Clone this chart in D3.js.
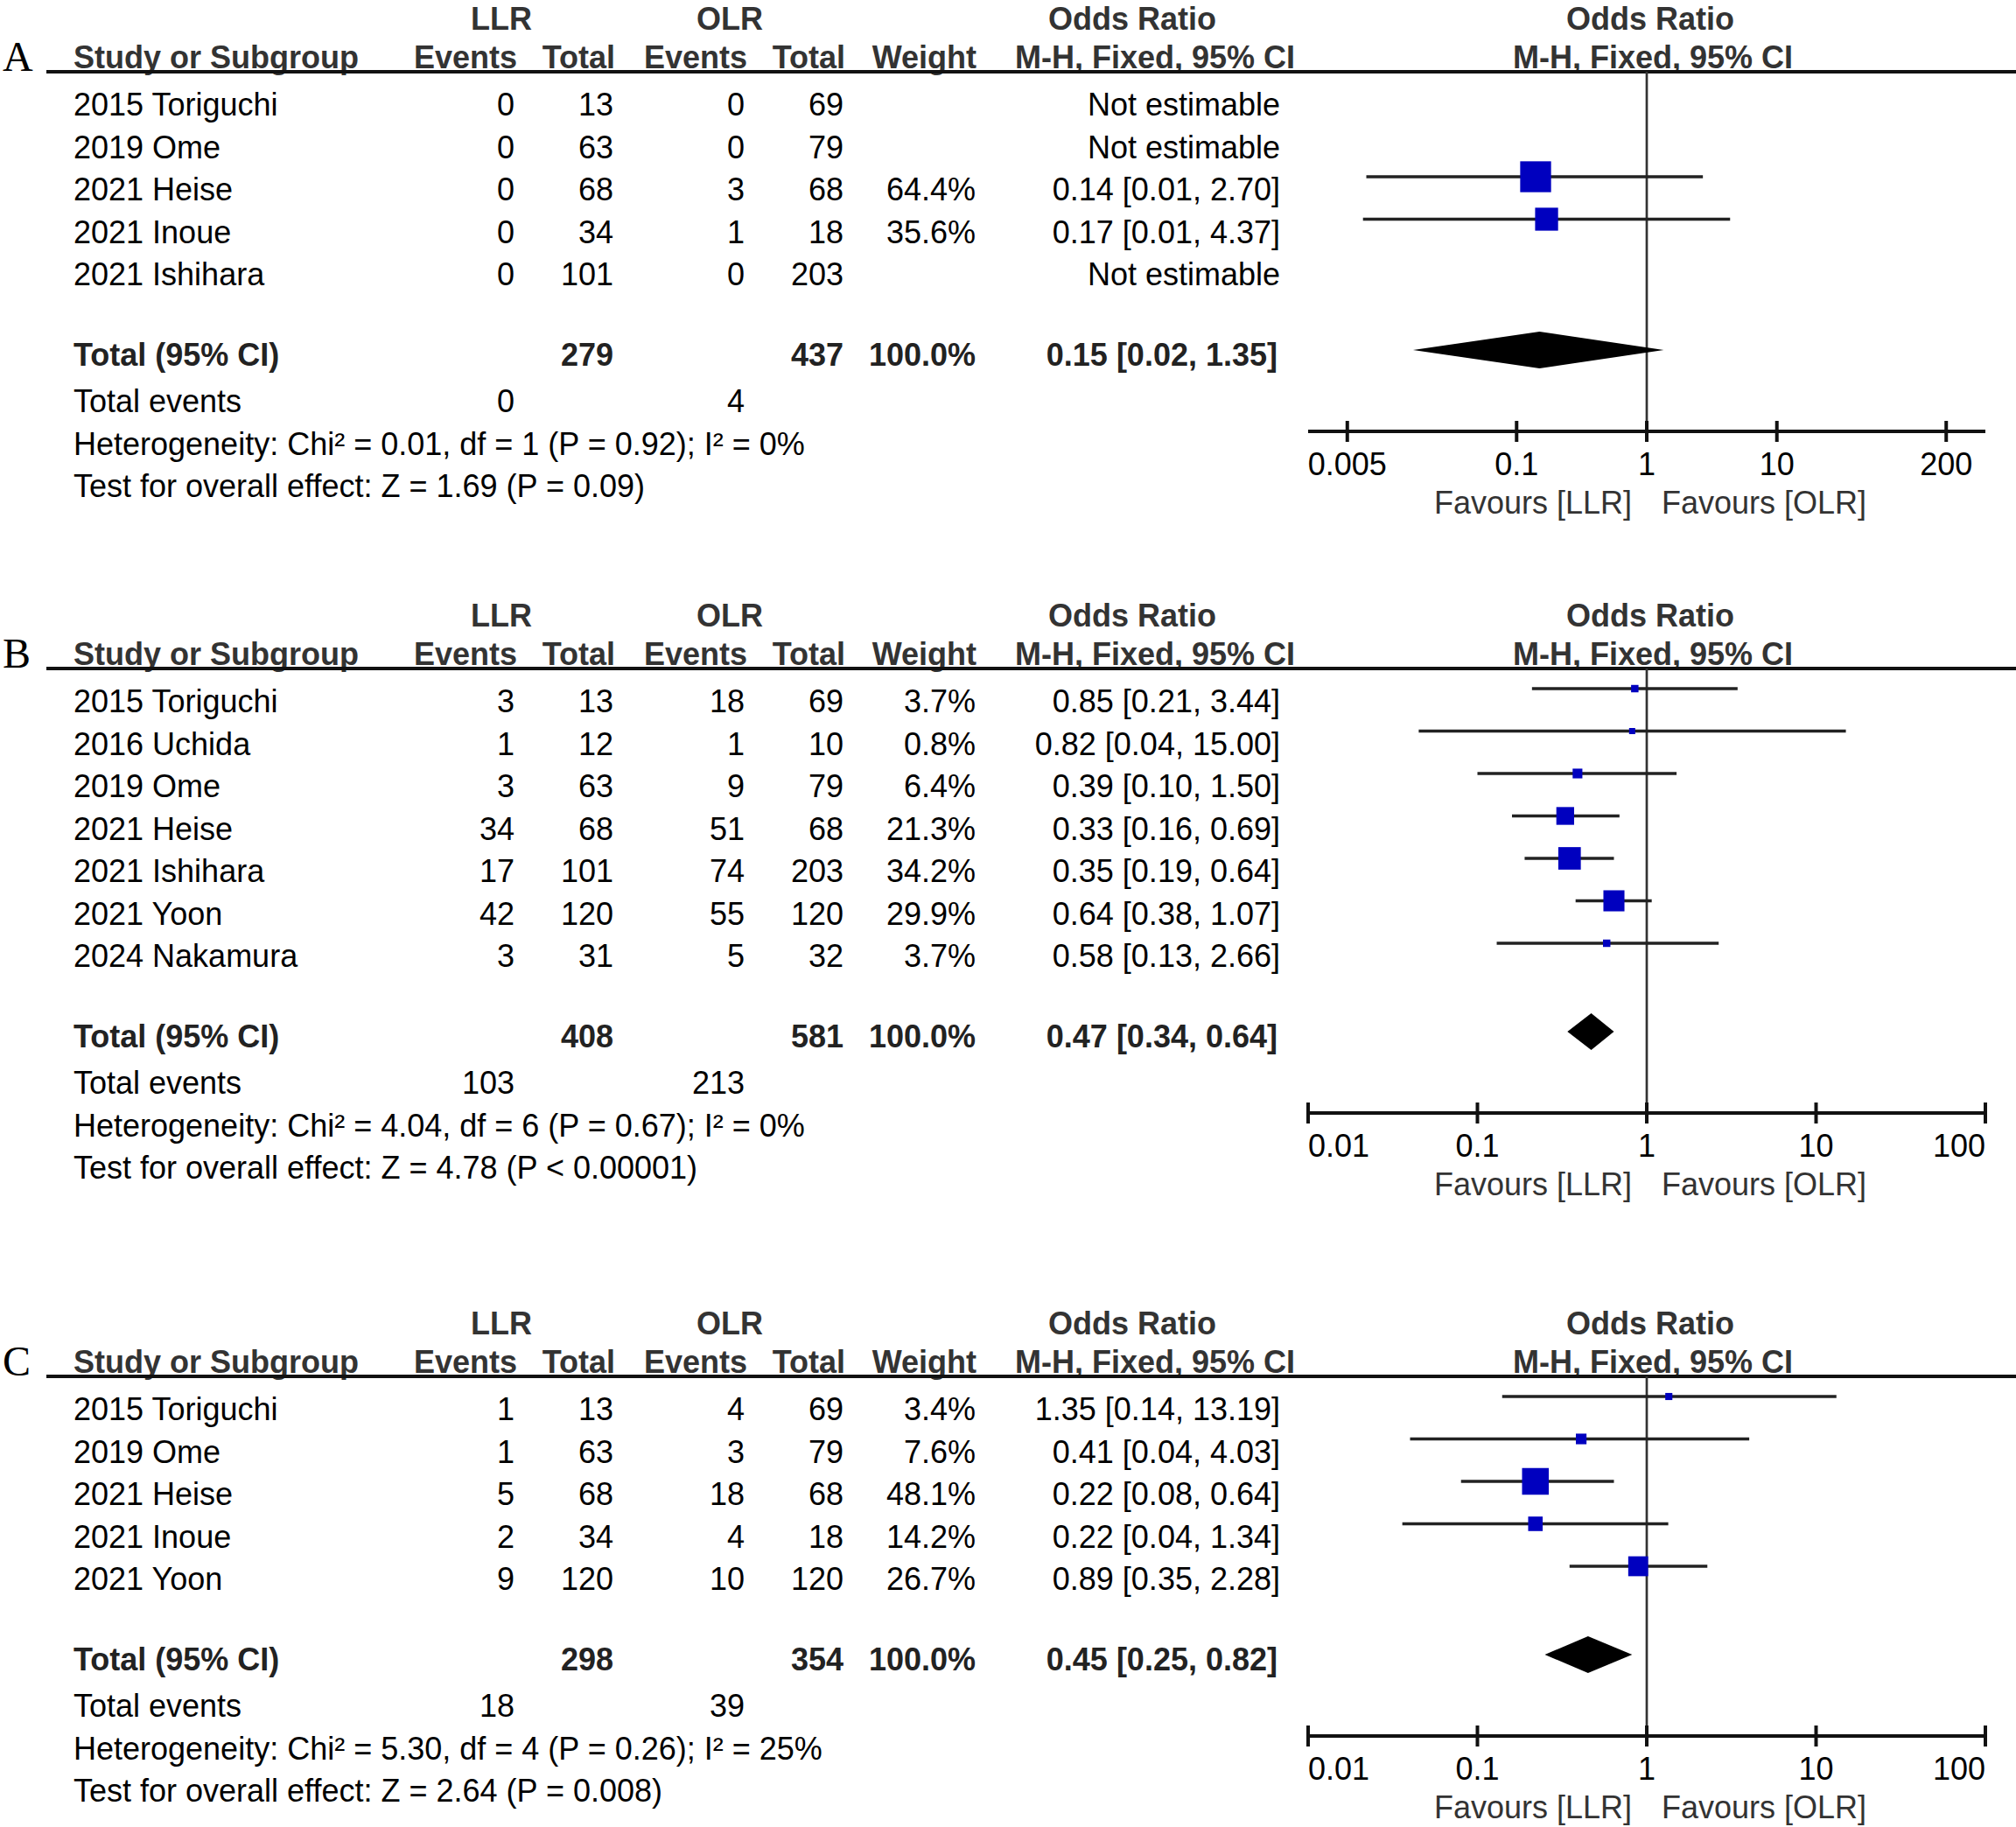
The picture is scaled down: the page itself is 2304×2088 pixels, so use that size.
<!DOCTYPE html>
<html>
<head>
<meta charset="utf-8">
<script src="https://cdn.jsdelivr.net/npm/d3@7"></script>
<style>
  html, body { margin: 0; padding: 0; background: #fff; }
  svg { display: block; }
</style>
</head>
<body>
<div id="chart"></div>
<script>
// ---- panel A ----
const aStudies = ["2015 Toriguchi", "2019 Ome", "2021 Heise", "2021 Inoue", "2021 Ishihara"];
const aLlrEvents = [0, 0, 0, 0, 0];
const aLlrTotal = [13, 63, 68, 34, 101];
const aOlrEvents = [0, 0, 3, 1, 0];
const aOlrTotal = [69, 79, 68, 18, 203];
const aWeight = [null, null, 64.4, 35.6, null];
const aOR = [null, null, 0.14, 0.17, null];
const aLow = [null, null, 0.007, 0.0066, null];
const aHigh = [null, null, 2.70, 4.37, null];
const aCiText = ["Not estimable", "Not estimable", "0.14 [0.01, 2.70]", "0.17 [0.01, 4.37]", "Not estimable"];
const aTotals = ["279", "437", "100.0%", "0.15 [0.02, 1.35]"];
const aPooled = [0.016, 0.15, 1.35];
const aEventTotals = ["0", "4"];
const aHet = "Heterogeneity: Chi² = 0.01, df = 1 (P = 0.92); I² = 0%";
const aTest = "Test for overall effect: Z = 1.69 (P = 0.09)";
const aTicks = [0.005, 0.1, 1, 10, 200];
const aDomain = [0.0025, 400];

// ---- panel B ----
const bStudies = ["2015 Toriguchi", "2016 Uchida", "2019 Ome", "2021 Heise", "2021 Ishihara", "2021 Yoon", "2024 Nakamura"];
const bLlrEvents = [3, 1, 3, 34, 17, 42, 3];
const bLlrTotal = [13, 12, 63, 68, 101, 120, 31];
const bOlrEvents = [18, 1, 9, 51, 74, 55, 5];
const bOlrTotal = [69, 10, 79, 68, 203, 120, 32];
const bWeight = [3.7, 0.8, 6.4, 21.3, 34.2, 29.9, 3.7];
const bOR = [0.85, 0.82, 0.39, 0.33, 0.35, 0.64, 0.58];
const bLow = [0.21, 0.045, 0.10, 0.16, 0.19, 0.38, 0.13];
const bHigh = [3.44, 15.00, 1.50, 0.69, 0.64, 1.07, 2.66];
const bCiText = ["0.85 [0.21, 3.44]", "0.82 [0.04, 15.00]", "0.39 [0.10, 1.50]", "0.33 [0.16, 0.69]",
                 "0.35 [0.19, 0.64]", "0.64 [0.38, 1.07]", "0.58 [0.13, 2.66]"];
const bTotals = ["408", "581", "100.0%", "0.47 [0.34, 0.64]"];
const bPooled = [0.34, 0.47, 0.64];
const bEventTotals = ["103", "213"];
const bHet = "Heterogeneity: Chi² = 4.04, df = 6 (P = 0.67); I² = 0%";
const bTest = "Test for overall effect: Z = 4.78 (P < 0.00001)";
const bTicks = [0.01, 0.1, 1, 10, 100];
const bDomain = [0.01, 100];

// ---- panel C ----
const cStudies = ["2015 Toriguchi", "2019 Ome", "2021 Heise", "2021 Inoue", "2021 Yoon"];
const cLlrEvents = [1, 1, 5, 2, 9];
const cLlrTotal = [13, 63, 68, 34, 120];
const cOlrEvents = [4, 3, 18, 4, 10];
const cOlrTotal = [69, 79, 68, 18, 120];
const cWeight = [3.4, 7.6, 48.1, 14.2, 26.7];
const cOR = [1.35, 0.41, 0.22, 0.22, 0.89];
const cLow = [0.14, 0.04, 0.08, 0.036, 0.35];
const cHigh = [13.19, 4.03, 0.64, 1.34, 2.28];
const cCiText = ["1.35 [0.14, 13.19]", "0.41 [0.04, 4.03]", "0.22 [0.08, 0.64]", "0.22 [0.04, 1.34]", "0.89 [0.35, 2.28]"];
const cTotals = ["298", "354", "100.0%", "0.45 [0.25, 0.82]"];
const cPooled = [0.25, 0.45, 0.82];
const cEventTotals = ["18", "39"];
const cHet = "Heterogeneity: Chi² = 5.30, df = 4 (P = 0.26); I² = 25%";
const cTest = "Test for overall effect: Z = 2.64 (P = 0.008)";
const cTicks = [0.01, 0.1, 1, 10, 100];
const cDomain = [0.01, 100];

const W = 2304, H = 2088;
const svg = d3.select("#chart").append("svg")
    .attr("width", W).attr("height", H)
    .style("font-family", "'Liberation Sans', Arial, sans-serif");

const rowH = 48.5;
const col = { study: 84, e1: 588, t1: 701, e2: 851, t2: 964, weight: 1115, ci: 1463 };
const boxSize = d3.scaleSqrt().domain([0, 100]).range([0, 44]);

function txt(g, x, y, s, anchor, opts) {
    opts = opts || {};
    let t = g.append("text")
        .attr("x", x).attr("y", y)
        .attr("text-anchor", anchor || "start")
        .attr("font-size", opts.size || 36)
        .attr("fill", opts.fill || "#000")
        .text(s);
    if (opts.bold) t.attr("font-weight", "bold");
    return t;
}
function bold(g, x, y, s, anchor) {
    return txt(g, x, y, s, anchor, { bold: true, size: 36, fill: "#333" });
}

function drawPanel(p) {
    const g = svg.append("g");
    const lineY = p.lineY;
    const n = p.studies.length;

    // panel letter
    g.append("text").attr("x", 3).attr("y", lineY - 1)
        .attr("font-family", "'Liberation Serif', 'Times New Roman', serif")
        .attr("font-size", 48).attr("fill", "#000").text(p.letter);

    // headers
    const h1 = lineY - 48, h2 = lineY - 4;
    bold(g, 573, h1, "LLR", "middle");
    bold(g, 834, h1, "OLR", "middle");
    bold(g, 1294, h1, "Odds Ratio", "middle");
    bold(g, 1886, h1, "Odds Ratio", "middle");
    bold(g, col.study, h2, "Study or Subgroup", "start");
    bold(g, 591, h2, "Events", "end");
    bold(g, 703, h2, "Total", "end");
    bold(g, 854, h2, "Events", "end");
    bold(g, 966, h2, "Total", "end");
    bold(g, 1116, h2, "Weight", "end");
    bold(g, 1480, h2, "M-H, Fixed, 95% CI", "end");
    bold(g, 1889, h2, "M-H, Fixed, 95% CI", "middle");

    g.append("line").attr("x1", 53).attr("x2", W).attr("y1", lineY).attr("y2", lineY)
        .attr("stroke", "#111").attr("stroke-width", 4);

    // x scale of the forest plot
    const x = d3.scaleLog().domain(p.domain).range([1495, 2269]);

    const rowBase = i => lineY + 50 + i * rowH;
    const rowMark = i => lineY + 23 + i * rowH;

    p.studies.forEach((s, i) => {
        const y = rowBase(i);
        txt(g, col.study, y, s);
        txt(g, col.e1, y, p.llrE[i], "end");
        txt(g, col.t1, y, p.llrT[i], "end");
        txt(g, col.e2, y, p.olrE[i], "end");
        txt(g, col.t2, y, p.olrT[i], "end");
        if (p.weight[i] != null) txt(g, col.weight, y, p.weight[i].toFixed(1) + "%", "end");
        txt(g, col.ci, y, p.ciText[i], "end");
    });

    const totalBase = rowBase(n - 1) + 92;
    const totalCenter = totalBase - 13;
    bold(g, col.study, totalBase, "Total (95% CI)", "start").attr("fill", "#222");
    bold(g, col.t1, totalBase, p.totals[0], "end").attr("fill", "#222");
    bold(g, col.t2, totalBase, p.totals[1], "end").attr("fill", "#222");
    bold(g, col.weight, totalBase, p.totals[2], "end").attr("fill", "#222");
    bold(g, col.ci - 3, totalBase, p.totals[3], "end").attr("fill", "#222");

    const evBase = totalBase + 53;
    txt(g, col.study, evBase, "Total events");
    txt(g, col.e1, evBase, p.eventTotals[0], "end");
    txt(g, col.e2, evBase, p.eventTotals[1], "end");
    txt(g, col.study, evBase + 48.5, p.het);
    txt(g, col.study, evBase + 97, p.test);

    // axis
    const axisY = totalCenter + 88;
    const [r0, r1] = x.range();
    g.append("line").attr("x1", x(1)).attr("x2", x(1)).attr("y1", lineY).attr("y2", axisY)
        .attr("stroke", "#333").attr("stroke-width", 2.7);
    g.append("line").attr("x1", r0).attr("x2", r1)
        .attr("y1", axisY).attr("y2", axisY).attr("stroke", "#111").attr("stroke-width", 4);
    g.selectAll(".tick").data(p.ticks).enter().append("line")
        .attr("x1", d => x(d)).attr("x2", d => x(d))
        .attr("y1", axisY - 12).attr("y2", axisY + 12)
        .attr("stroke", "#111").attr("stroke-width", 4);
    // end labels are kept inside the axis
    p.ticks.forEach(t => {
        const px = x(t);
        const anchor = Math.abs(px - r0) < 2 ? "start" : (Math.abs(px - r1) < 2 ? "end" : "middle");
        txt(g, px, axisY + 50, String(t), anchor);
    });
    txt(g, x(1) - 17, axisY + 94, "Favours [LLR]", "end", { fill: "#333" });
    txt(g, x(1) + 17, axisY + 94, "Favours [OLR]", "start", { fill: "#333" });

    // study markers
    const idx = d3.range(n).filter(i => p.or[i] != null);
    g.selectAll(".ci").data(idx).enter().append("line")
        .attr("x1", i => x(p.low[i])).attr("x2", i => x(p.high[i]))
        .attr("y1", i => rowMark(i)).attr("y2", i => rowMark(i))
        .attr("stroke", "#222").attr("stroke-width", 3.5);
    g.selectAll(".box").data(idx).enter().append("rect")
        .attr("x", i => x(p.or[i]) - Math.max(7, boxSize(p.weight[i])) / 2)
        .attr("y", i => rowMark(i) - Math.max(7, boxSize(p.weight[i])) / 2)
        .attr("width", i => Math.max(7, boxSize(p.weight[i])))
        .attr("height", i => Math.max(7, boxSize(p.weight[i])))
        .attr("fill", "#0000BF");

    // pooled diamond
    const dy = totalCenter - 5, dh = 21;
    g.append("path")
        .attr("d", "M" + x(p.pooled[0]) + "," + dy +
            "L" + x(p.pooled[1]) + "," + (dy - dh) +
            "L" + x(p.pooled[2]) + "," + dy +
            "L" + x(p.pooled[1]) + "," + (dy + dh) + "Z")
        .attr("fill", "#000");
}

drawPanel({ letter: "A", lineY: 82, studies: aStudies, llrE: aLlrEvents, llrT: aLlrTotal, olrE: aOlrEvents,
    olrT: aOlrTotal, weight: aWeight, or: aOR, low: aLow, high: aHigh, ciText: aCiText, totals: aTotals,
    pooled: aPooled, eventTotals: aEventTotals, het: aHet, test: aTest, ticks: aTicks, domain: aDomain });
drawPanel({ letter: "B", lineY: 764, studies: bStudies, llrE: bLlrEvents, llrT: bLlrTotal, olrE: bOlrEvents,
    olrT: bOlrTotal, weight: bWeight, or: bOR, low: bLow, high: bHigh, ciText: bCiText, totals: bTotals,
    pooled: bPooled, eventTotals: bEventTotals, het: bHet, test: bTest, ticks: bTicks, domain: bDomain });
drawPanel({ letter: "C", lineY: 1573, studies: cStudies, llrE: cLlrEvents, llrT: cLlrTotal, olrE: cOlrEvents,
    olrT: cOlrTotal, weight: cWeight, or: cOR, low: cLow, high: cHigh, ciText: cCiText, totals: cTotals,
    pooled: cPooled, eventTotals: cEventTotals, het: cHet, test: cTest, ticks: cTicks, domain: cDomain });
</script>
</body>
</html>
